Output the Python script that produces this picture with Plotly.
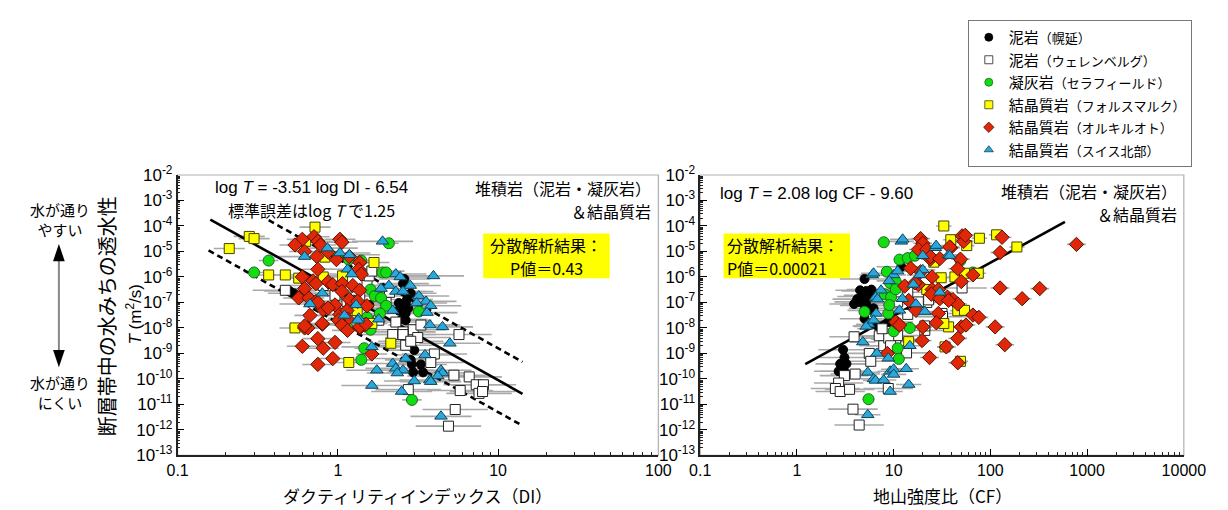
import math
import plotly.graph_objects as go

# ------------------------------------------------------------------ data
# Left panel: ductility index DI vs transmissivity T (m2/s)
di_horonobe = [2.6, 2.85, 2.55, 2.4, 2.45, 2.7, 2.65, 2.65, 1.57, 0.53, 0.5, 2.7, 2.45, 2.75, 2.4, 2.5,
               3.0, 2.85, 2.9, 3.3, 2.95, 3.4]
t_di_horonobe = [8.3e-7, 2.3e-7, 5.5e-7, 9.5e-8, 5.2e-8, 6.8e-8, 3.7e-8, 2e-8, 8e-8, 2.3e-7, 2.8e-7, 1.3e-7,
                 8.5e-8, 6e-8, 4.8e-8, 2.2e-8, 1.35e-9, 5.6e-10, 3.7e-10, 3.7e-10, 1.8e-10, 1.8e-10]

di_wellenberg = [0.96, 0.81, 0.47, 1.52, 1.57, 1.63, 1.8, 2.3, 2.95, 2.55, 5.7, 1.14, 1.37, 2.2, 2.55,
                 3.15, 2.65, 2.85, 4.0, 3.8, 5.3, 6.6, 7.3, 8.1, 5.8, 7.6, 8.0, 2.75, 5.4, 4.9,
                 3.3, 1.3, 2.0, 1.2, 2.1]
t_di_wellenberg = [1.9e-7, 4.6e-7, 3e-7, 4.6e-7, 1.1e-6, 1.7e-6, 2e-8, 1.7e-8, 8.5e-9, 7e-9, 5.5e-9, 1.1e-7,
                   1.8e-7, 5.5e-9, 5.5e-9, 4.2e-9, 2.1e-9, 3e-9, 9.5e-10, 4.4e-10, 1.4e-10, 1.2e-10, 5.9e-11,
                   5.9e-11, 3.5e-11, 2.7e-11, 3.2e-11, 3.8e-11, 6.3e-12, 1.4e-12, 1.3e-8, 3e-7, 1e-7, 6e-8, 2.5e-7]

di_sellafield = [2.08, 0.37, 0.3, 1.0, 1.17, 1.4, 1.9, 2.0, 1.6, 1.7, 1.86, 2.0, 1.83, 3.2, 1.52,
                 1.6, 1.15, 1.46, 1.4, 2.9]
t_di_sellafield = [2.1e-5, 4.4e-6, 1.5e-6, 6.3e-6, 4.8e-6, 4.4e-6, 1.5e-6, 1.5e-6, 3.2e-7, 1.8e-7, 1.5e-7,
                   7.4e-8, 3.7e-8, 4.4e-8, 2.6e-8, 8.5e-9, 1e-8, 1.6e-9, 5.6e-10, 1.5e-11]

di_forsmark = [0.72, 0.28, 0.30, 0.21, 0.63, 0.83, 0.37, 0.47, 0.57, 1.68, 1.07, 0.81, 1.22, 1.32, 1.63,
               0.54, 1.17, 2.14]
t_di_forsmark = [9e-5, 3.9e-5, 3.2e-5, 1.3e-5, 2.5e-5, 6e-6, 1.2e-6, 1.2e-6, 9e-7, 3.7e-6, 1.1e-6, 1e-6,
                 4.8e-8, 4.8e-8, 1.5e-8, 1e-8, 4.4e-10, 2.5e-9]

di_olkiluoto = [0.71, 0.6, 0.54, 0.75, 0.78, 1.03, 1.06, 0.87, 0.74, 0.62, 0.98, 1.18, 1.37, 1.35, 1.4,
                0.75, 0.6, 0.7, 0.73, 0.87, 0.93, 1.07, 1.24, 1.37, 0.62, 0.57, 0.66, 0.73, 1.06, 1.18,
                0.96, 1.03, 1.14, 1.15, 0.8, 0.62, 0.65, 1.37, 1.46, 1.33, 1.52, 0.81, 0.75, 0.67, 0.87,
                0.62, 0.8, 1.01, 1.06, 1.15, 0.75, 0.96, 0.6, 0.81, 0.93, 0.75, 1.63, 1.37, 1.5]
t_di_olkiluoto = [3.8e-5, 3e-5, 1.8e-5, 2.5e-5, 1.8e-5, 3e-5, 2.3e-5, 9.5e-6, 6.3e-6, 1e-5, 4.8e-6, 6.3e-6,
                  3.7e-6, 2e-6, 1.3e-6, 2e-6, 1e-6, 7e-7, 5.5e-7, 6.4e-7, 5e-7, 5.5e-7, 4.6e-7, 3e-7, 3.5e-7,
                  1.5e-7, 1.5e-7, 1.1e-7, 2.7e-7, 1.3e-7, 8e-8, 3.4e-8, 4.8e-8, 2.2e-8, 1.4e-8, 1e-8, 1e-8,
                  1e-8, 1.3e-8, 1.1e-7, 7.4e-8, 5.2e-8, 1e-7, 3.1e-8, 6e-8, 1.2e-8, 1.5e-8, 2e-8, 1.3e-8,
                  8e-9, 3.8e-9, 2.7e-9, 1.9e-9, 1.6e-9, 6.3e-10, 3.7e-10, 9.5e-10, 1.1e-8, 1.4e-8]

di_swiss = [1.9, 3.95, 0.86, 1.03, 1.18, 0.62, 1.15, 1.22, 2.3, 2.45, 2.08, 2.83, 1.86, 2.3, 2.55,
            0.8, 0.67, 1.3, 3.2, 3.55, 3.8, 3.6, 2.2, 1.8, 3.1, 3.75, 4.5, 1.35, 1.1, 5.0,
            1.63, 1.33, 2.65, 2.2, 2.3, 2.55, 2.35, 1.75, 3.5, 4.4, 4.5, 4.2, 3.0, 3.75, 3.8,
            1.63, 2.5, 4.4]
t_di_swiss = [2.5e-5, 1.1e-6, 1.35e-5, 8.7e-6, 7.4e-6, 6.3e-6, 2e-6, 1.3e-6, 1.3e-6, 1e-6, 4.6e-7, 4.6e-7,
              3.5e-7, 2.7e-7, 2.7e-7, 2.3e-7, 8.7e-8, 8e-8, 1.8e-7, 1.1e-7, 7.4e-8, 4e-8, 4.8e-8, 2.2e-8,
              9.5e-8, 1.3e-8, 1.1e-8, 2.4e-8, 3.1e-8, 2.5e-9, 1.8e-9, 2e-8, 6.3e-10, 4e-10, 2.6e-10,
              2.2e-10, 1.7e-10, 2.2e-10, 8.7e-10, 2.2e-10, 1.7e-10, 1.3e-10, 8.3e-11, 9e-11, 7.8e-11,
              5.5e-11, 3.2e-11, 3.4e-12]

# Right panel: competence factor CF vs transmissivity T (m2/s)
cf_horonobe = [3.9, 4.2, 5.2, 4.7, 5.9, 5.0, 6.0, 12, 5.0, 4.5, 5.9, 5.5, 4.4, 5.2, 6.2, 5.0, 8.8,
               3.0, 3.1, 2.8, 3.25, 2.7, 3.1, 6.8]
t_cf_horonobe = [8.7e-8, 1.35e-7, 2.8e-7, 1.7e-7, 1.8e-7, 7.6e-8, 4.9e-8, 2.5e-6, 8.3e-7, 3e-7, 3.2e-7,
                 1.9e-7, 1.05e-7, 8.9e-8, 5.9e-8, 2.3e-8, 1.7e-8, 1.4e-9, 6.9e-10, 3.9e-10, 3.9e-10,
                 2e-10, 2e-10, 1.2e-8]

cf_wellenberg = [3.9, 3.1, 4.0, 2.7, 2.5, 2.8, 3.5, 5.6, 5.8, 3.8, 4.4, 7.1, 7.9, 8.8, 13.6, 21, 10.5,
                 30.5, 11, 8.9, 7.6, 9.3, 51, 22, 31.6, 23, 18, 32, 21, 14, 11, 14]
t_cf_wellenberg = [4.5e-9, 1.35e-10, 1.55e-10, 6.9e-11, 4.2e-11, 3.2e-11, 3.9e-11, 1e-9, 4.9e-10,
                   6.5e-12, 1.55e-12, 4.9e-9, 2e-9, 4.2e-11, 1.05e-9, 8e-9, 3.6e-9, 2.75e-8, 5e-9, 4e-9,
                   9.3e-9, 2e-9, 3.7e-7, 1e-7, 3.7e-8, 1.26e-7, 1.05e-7, 2.8e-8, 1.2e-8, 2.5e-7, 1.05e-7,
                   3.4e-8]

cf_sellafield = [7.9, 11.5, 14, 16.6, 49, 66, 8.5, 9.2, 10.5, 8.1, 9.4, 10.5, 5.0, 8.8, 9.0, 10, 14.7,
                 11, 11.3, 5.5]
t_cf_sellafield = [2.3e-5, 4.8e-6, 5.5e-6, 6.8e-6, 4.4e-6, 1.5e-6, 1.6e-6, 5.8e-7, 6.6e-7, 2.1e-7, 1.6e-7,
                   3.3e-7, 4.3e-8, 3.7e-8, 7.9e-8, 7.4e-9, 1e-8, 1.6e-9, 6.1e-10, 1.6e-11]

cf_forsmark = [33, 39, 57, 77, 116, 188, 26, 31, 43, 54, 75, 46, 54, 37, 33, 22, 14.3, 34, 49]
t_cf_forsmark = [1e-4, 2.9e-5, 1.7e-5, 3.3e-5, 4.5e-5, 1.5e-5, 3.8e-6, 9.3e-7, 1e-6, 1.4e-6, 1.4e-6,
                 4.7e-8, 4.9e-8, 1.1e-8, 1.5e-8, 3.2e-7, 2.9e-9, 1.8e-9, 4.9e-10]

cf_olkiluoto = [19, 20, 18, 22, 24, 39, 51, 53, 38, 132, 126, 49, 46, 66, 50, 25, 19, 18, 13, 14.3,
                25, 29, 36, 41, 46, 126, 213, 324, 776, 66, 76, 112, 50, 56, 29, 17, 11, 20, 19.7, 35,
                46, 141, 8.6, 23.5, 46, 15, 55, 24, 30, 16.6, 24.5, 30, 37, 27.6, 10.5, 11.5]
t_cf_olkiluoto = [3.2e-5, 2.1e-5, 1.2e-5, 1.2e-5, 5e-6, 1.4e-5, 4.1e-5, 2.5e-5, 1.5e-5, 3.6e-5, 9.1e-6,
                  5e-6, 2.1e-6, 1.2e-6, 6.6e-7, 1e-6, 1.6e-6, 5e-7, 4.4e-7, 1.2e-7, 3.2e-7, 3.2e-7, 1.6e-7,
                  1.3e-7, 8.7e-8, 3.7e-7, 1.4e-7, 3.5e-7, 1.9e-5, 3.2e-8, 2.6e-8, 1.1e-8, 1.1e-8, 1.3e-8,
                  3.7e-8, 4.9e-8, 1.5e-8, 1.1e-8, 3.2e-9, 1.8e-9, 3.9e-9, 2.2e-9, 1e-9, 6.9e-10, 4.3e-10,
                  2.2e-6, 4.3e-5, 6.3e-6, 5.2e-6, 5.9e-7, 2.1e-7, 1.4e-7, 1.2e-7, 1.6e-8, 1.7e-8, 1.3e-8]

cf_swiss = [12, 12.4, 6, 27, 37, 27.5, 38, 20, 10, 11, 6.2, 20, 18.6, 7.4, 9, 6.5, 6.8, 12.3, 30, 16,
            21, 17, 11.5, 6.6, 5.5, 5.2, 6.2, 4.8, 6.7, 8.8, 14.7, 5.4, 6.2, 6.5, 7.9, 9.2, 10, 13.5,
            14.3, 9.2, 5.4, 10]
t_cf_swiss = [2.5e-5, 3e-5, 1.2e-6, 1.4e-5, 7.4e-6, 1.7e-5, 6.9e-6, 6.8e-6, 1.2e-6, 1.7e-6, 1.4e-6,
              1.9e-6, 1.2e-6, 3e-7, 7e-7, 1.6e-7, 1.35e-7, 1.4e-7, 2.5e-7, 5.1e-7, 4.4e-8, 8.7e-8, 4.9e-8,
              3.7e-8, 1.4e-8, 1.15e-8, 2e-8, 2.8e-9, 1e-9, 6.5e-10, 2e-9, 1.8e-10, 1e-10, 8.7e-11, 9e-11,
              2e-10, 2.4e-10, 2.5e-10, 6e-11, 3.2e-11, 3.9e-12, 1.5e-10]

# horizontal uncertainty (multiplicative factor) per series
err_di = [1.45, 1.6, 1.15, 1.25, 1.25, 1.55]
err_cf = [1.8, 1.8, 1.15, 1.2, 1.25, 1.35]

# regression results
di_fit = dict(slope=-3.51, intercept=-6.54, se=1.25)
cf_fit = dict(slope=2.08, intercept=-9.60)
di_line_x = [0.16, 14.2]
di_upper_x = [0.37, 14.2]
di_lower_x = [0.156, 14.2]
cf_line_x = [1.22, 590]

series_names = ["泥岩", "泥岩", "凝灰岩", "結晶質岩", "結晶質岩", "結晶質岩"]
series_sites = ["（幌延）", "（ウェレンベルグ）", "（セラフィールド）", "（フォルスマルク）",
                "（オルキルオト）", "（スイス北部）"]

y_tick_exp = list(range(-2, -14, -1))
x_left_ticks = [0.1, 1, 10, 100]
x_left_labels = ["0.1", "1", "10", "100"]
x_right_ticks = [0.1, 1, 10, 100, 1000, 10000]
x_right_labels = ["0.1", "1", "10", "100", "1000", "10000"]

# ------------------------------------------------------------------ styling
W, H = 1228, 510
LAT = "Liberation Sans, Arial, Noto Sans CJK JP, sans-serif"
JP = "Noto Sans CJK JP, sans-serif"

styles = [
    dict(symbol="circle", color="#000000", size=9, line=dict(color="#000000", width=1)),
    dict(symbol="square", color="#ffffff", size=10, line=dict(color="#222222", width=1)),
    dict(symbol="circle", color="#11dd11", size=11, line=dict(color="#226622", width=1)),
    dict(symbol="square", color="#ffff00", size=10, line=dict(color="#444400", width=1)),
    dict(symbol="diamond", color="#e02808", size=11, line=dict(color="#551100", width=1)),
    dict(symbol="triangle-up", color="#2aa8dc", size=11, line=dict(color="#114455", width=1)),
]
legend_marker_size = 8

left_x = [di_horonobe, di_wellenberg, di_sellafield, di_forsmark, di_olkiluoto, di_swiss]
left_y = [t_di_horonobe, t_di_wellenberg, t_di_sellafield, t_di_forsmark, t_di_olkiluoto, t_di_swiss]
right_x = [cf_horonobe, cf_wellenberg, cf_sellafield, cf_forsmark, cf_olkiluoto, cf_swiss]
right_y = [t_cf_horonobe, t_cf_wellenberg, t_cf_sellafield, t_cf_forsmark, t_cf_olkiluoto, t_cf_swiss]


def px(x):
    return x / W


def py(y):
    return 1 - y / H


fig = go.Figure()

# error bars first (drawn beneath everything)
for xs_all, ys_all, facs, xa, ya in [(left_x, left_y, err_di, "x", "y"),
                                      (right_x, right_y, err_cf, "x2", "y2")]:
    for xs, ys, f in zip(xs_all, ys_all, facs):
        fig.add_trace(go.Scatter(
            x=xs, y=ys, mode="markers", xaxis=xa, yaxis=ya,
            marker=dict(size=1, color="rgba(0,0,0,0)"),
            error_x=dict(type="data", symmetric=False,
                         array=[v * (f - 1) for v in xs],
                         arrayminus=[v * (1 - 1 / f) for v in xs],
                         color="#a9a9a9", thickness=1.6, width=0),
            showlegend=False, hoverinfo="skip"))


def fit_T(xv, fit, off=0.0):
    return [10 ** (fit["slope"] * math.log10(v) + fit["intercept"] + off) for v in xv]


fig.add_trace(go.Scatter(x=di_line_x, y=fit_T(di_line_x, di_fit), mode="lines", xaxis="x", yaxis="y",
                         line=dict(color="black", width=2.6), showlegend=False, hoverinfo="skip"))
fig.add_trace(go.Scatter(x=di_upper_x, y=fit_T(di_upper_x, di_fit, di_fit["se"]), mode="lines",
                         xaxis="x", yaxis="y", line=dict(color="black", width=2.6, dash="6px,4px"),
                         showlegend=False, hoverinfo="skip"))
fig.add_trace(go.Scatter(x=di_lower_x, y=fit_T(di_lower_x, di_fit, -di_fit["se"]), mode="lines",
                         xaxis="x", yaxis="y", line=dict(color="black", width=2.6, dash="6px,4px"),
                         showlegend=False, hoverinfo="skip"))
fig.add_trace(go.Scatter(x=cf_line_x, y=fit_T(cf_line_x, cf_fit), mode="lines", xaxis="x2", yaxis="y2",
                         line=dict(color="black", width=2.6), showlegend=False, hoverinfo="skip"))

for xs_all, ys_all, xa, ya in [(left_x, left_y, "x", "y"), (right_x, right_y, "x2", "y2")]:
    for i, st in enumerate(styles):
        fig.add_trace(go.Scatter(
            x=xs_all[i], y=ys_all[i], mode="markers", xaxis=xa, yaxis=ya, legendgroup=str(i),
            showlegend=False, marker=dict(symbol=st["symbol"], color=st["color"], size=st["size"],
                                          line=st["line"])))

# legend entries (small markers, like the reference legend box)
for i, st in enumerate(styles):
    name = (series_names[i] + "<span style='font-size:13px'>" + series_sites[i] + "</span>")
    fig.add_trace(go.Scatter(
        x=[None], y=[None], mode="markers", xaxis="x", yaxis="y", name=name, legendgroup=str(i),
        marker=dict(symbol=st["symbol"], color=st["color"], size=legend_marker_size,
                    line=dict(color=st["line"]["color"], width=0.8))))

ydom = [py(455), py(162)]
yticks = [10.0 ** e for e in y_tick_exp]
ylabels = ["10<sup>%d</sup>" % e for e in y_tick_exp]

common_axis = dict(type="log", ticks="inside", ticklen=7, tickwidth=1, tickcolor="black",
                   showline=True, linecolor="#222222", linewidth=1.5, mirror=False, showgrid=False,
                   zeroline=False, tickmode="array")


def yaxis(anchor):
    d = dict(common_axis)
    d.update(domain=ydom, range=[-13, -2], anchor=anchor, tickvals=yticks, ticktext=ylabels,
             tickfont=dict(family=LAT, size=17, color="black"),
             minor=dict(ticks="inside", ticklen=3, tickcolor="#222222", dtick="D1", showgrid=False))
    return d


def xaxis(domain, rng, tv, tt, anchor):
    d = dict(common_axis)
    d.update(domain=domain, range=rng, anchor=anchor, tickvals=tv, ticktext=tt,
             tickfont=dict(family=LAT, size=16, color="black"),
             minor=dict(ticks="inside", ticklen=4, tickcolor="#222222", dtick="D1", showgrid=False))
    return d


fig.update_layout(
    width=W, height=H, margin=dict(l=0, r=0, t=0, b=0),
    paper_bgcolor="white", plot_bgcolor="white",
    xaxis=xaxis([px(163), px(657)], [-1, 2], x_left_ticks, x_left_labels, "y"),
    yaxis=yaxis("x"),
    xaxis2=xaxis([px(700), px(1197)], [-1, 4], x_right_ticks, x_right_labels, "y2"),
    yaxis2=yaxis("x2"),
    showlegend=True,
    legend=dict(x=px(975), xanchor="left", y=1.0, yanchor="top", bgcolor="white",
                bordercolor="#777777", borderwidth=1, font=dict(family=JP, size=15, color="black"),
                tracegroupgap=0, traceorder="normal", itemwidth=30),
)

shapes = []
# light grey frame around each plot
for xr, yr in [("x domain", "y domain"), ("x2 domain", "y2 domain")]:
    shapes.append(dict(type="rect", xref=xr, yref=yr, x0=0, x1=1, y0=0, y1=1,
                       line=dict(color="#b0b0b0", width=1.2), layer="below"))
# yellow result boxes
shapes.append(dict(type="rect", xref="paper", yref="paper", x0=px(477), x1=px(607), y0=py(270), y1=py(223),
                   fillcolor="#ffff00", line=dict(width=0), layer="below"))
shapes.append(dict(type="rect", xref="paper", yref="paper", x0=px(724), x1=px(854), y0=py(270), y1=py(223),
                   fillcolor="#ffff00", line=dict(width=0), layer="below"))
# double arrow on the left
shapes.append(dict(type="line", xref="paper", yref="paper", x0=px(41), x1=px(41), y0=py(248), y1=py(350),
                   line=dict(color="#888888", width=2)))
shapes.append(dict(type="path", xref="paper", yref="paper",
                   path="M %f,%f L %f,%f L %f,%f Z" % (px(41), py(234), px(35), py(252), px(47), py(252)),
                   fillcolor="black", line=dict(width=0)))
shapes.append(dict(type="path", xref="paper", yref="paper",
                   path="M %f,%f L %f,%f L %f,%f Z" % (px(41), py(363), px(35), py(345), px(47), py(345)),
                   fillcolor="black", line=dict(width=0)))
fig.update_layout(shapes=shapes)


def ann(text, x, y, size=17, family=LAT, xanchor="center", angle=0, align="center"):
    return dict(text=text, x=px(x), y=py(y), xref="paper", yref="paper", showarrow=False,
                xanchor=xanchor, yanchor="middle", textangle=angle, align=align,
                font=dict(family=family, size=size, color="black"))


anns = [
    ann("log <i>T</i> = -3.51 log DI - 6.54", 301, 175, 17),
    ann("標準誤差はlog <i>T</i> で1.25", 301, 199, 16, JP),
    ann("堆積岩（泥岩・凝灰岩）", 651, 176, 16, JP, "right"),
    ann("＆結晶質岩", 651, 200, 16, JP, "right"),
    ann("分散解析結果：", 542, 235, 16, JP),
    ann("P値＝0.43", 542, 259, 16, JP),
    ann("log <i>T</i> = 2.08 log CF - 9.60", 718, 181, 17, LAT, "left"),
    ann("堆積岩（泥岩・凝灰岩）", 1192, 179, 16, JP, "right"),
    ann("＆結晶質岩", 1192, 203, 16, JP, "right"),
    ann("分散解析結果：", 726, 235, 16, JP, "left"),
    ann("P値＝0.00021", 726, 259, 16, JP, "left"),
    ann("ダクティリティインデックス（DI）", 410, 497, 17, JP),
    ann("地山強度比（CF）", 949, 497, 17, JP),
    ann("断層帯中の水みちの透水性", 90, 310, 20, JP, angle=-90),
    ann("<i>T</i> (m<sup>2</sup>/s)", 118, 308, 17, LAT, angle=-90),
    ann("水が通り<br>やすい", 42, 209, 15, JP),
    ann("水が通り<br>にくい", 42, 389, 15, JP),
]
fig.update_layout(annotations=anns)

fig.write_html("out.html")
